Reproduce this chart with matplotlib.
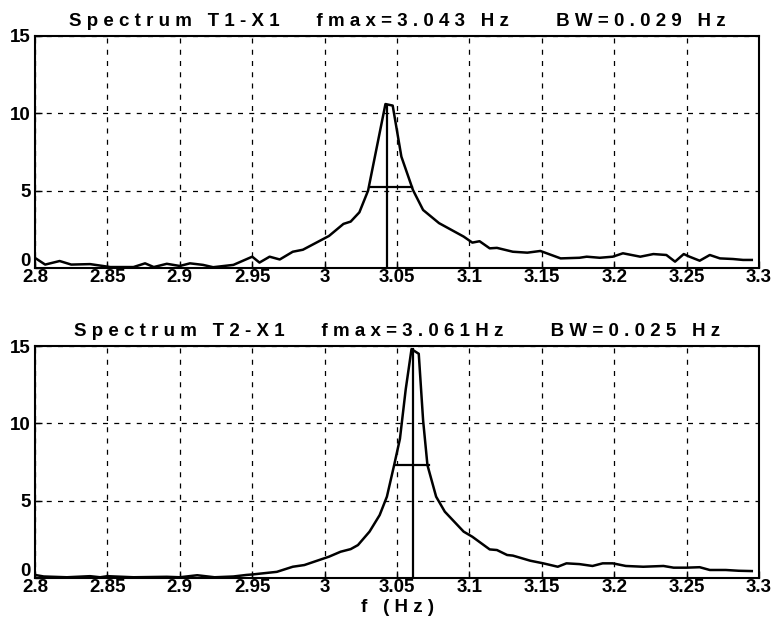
import matplotlib
matplotlib.use('Agg')
from matplotlib import pyplot as plt
from matplotlib.transforms import ScaledTranslation

# spectrum 1 (T1-X1)
f1 = [2.800, 2.807, 2.817, 2.825, 2.838, 2.852, 2.868, 2.876, 2.882, 2.891,
      2.900, 2.907, 2.916, 2.923, 2.937, 2.950, 2.955, 2.962, 2.969, 2.978,
      2.985, 3.003, 3.013, 3.018, 3.024, 3.030, 3.042, 3.047, 3.053, 3.061,
      3.068, 3.079, 3.096, 3.102, 3.107, 3.114, 3.119, 3.130, 3.140, 3.149,
      3.163, 3.176, 3.181, 3.190, 3.199, 3.206, 3.218, 3.227, 3.236, 3.242,
      3.248, 3.252, 3.259, 3.266, 3.273, 3.282, 3.289, 3.295]
a1 = [0.65, 0.22, 0.45, 0.22, 0.25, 0.06, 0.06, 0.30, 0.06, 0.27,
      0.13, 0.30, 0.20, 0.05, 0.20, 0.73, 0.35, 0.73, 0.55, 1.05,
      1.18, 2.07, 2.85, 3.00, 3.60, 5.00, 10.6, 10.5, 7.20, 5.04,
      3.75, 2.90, 2.03, 1.64, 1.73, 1.27, 1.30, 1.05, 0.99, 1.10,
      0.62, 0.66, 0.73, 0.66, 0.73, 0.95, 0.73, 0.90, 0.84, 0.41,
      0.90, 0.73, 0.47, 0.84, 0.62, 0.58, 0.52, 0.52]

# spectrum 2 (T2-X1)
f2 = [2.800, 2.806, 2.822, 2.838, 2.845, 2.850, 2.868, 2.891, 2.900, 2.912,
      2.924, 2.937, 2.946, 2.950, 2.967, 2.978, 2.986, 3.003, 3.011, 3.018,
      3.023, 3.031, 3.038, 3.043, 3.048, 3.052, 3.056, 3.060, 3.065, 3.068,
      3.071, 3.077, 3.083, 3.096, 3.102, 3.114, 3.119, 3.126, 3.130, 3.142,
      3.151, 3.161, 3.167, 3.176, 3.185, 3.192, 3.199, 3.208, 3.220, 3.234,
      3.241, 3.250, 3.259, 3.266, 3.277, 3.286, 3.295]
a2 = [0.20, 0.10, 0.05, 0.12, 0.05, 0.12, 0.05, 0.08, 0.05, 0.18,
      0.05, 0.10, 0.20, 0.23, 0.40, 0.73, 0.84, 1.38, 1.70, 1.87,
      2.13, 3.00, 4.07, 5.26, 7.30, 9.00, 12.2, 14.8, 14.5, 10.2,
      7.30, 5.26, 4.29, 3.00, 2.67, 1.85, 1.81, 1.49, 1.45, 1.12,
      0.95, 0.73, 0.95, 0.90, 0.78, 0.95, 0.95, 0.78, 0.73, 0.78,
      0.67, 0.67, 0.70, 0.52, 0.52, 0.47, 0.45]

# peak / half-power markers: fmax, peak value, half-power edges, half level
fmax = [3.043, 3.061]
peak = [10.5, 14.8]
hp_lo = [3.031, 3.049]
hp_hi = [3.060, 3.072]
hp_val = [5.26, 7.3]

titles = ['Spectrum T1-X1   fmax=3.043 Hz    BW=0.029 Hz',
          'Spectrum T2-X1   fmax=3.061Hz    BW=0.025 Hz']

xticks = [2.8, 2.85, 2.9, 2.95, 3, 3.05, 3.1, 3.15, 3.2, 3.25, 3.3]
xticklabels = ['2.8', '2.85', '2.9', '2.95', '3', '3.05', '3.1', '3.15', '3.2', '3.25', '3.3']
yticks = [0, 5, 10, 15]

plt.rcParams['font.family'] = ['Liberation Sans', 'DejaVu Sans']
plt.rcParams['font.weight'] = 'bold'


def spaced(s):
    # the printed original has very wide letter spacing
    return ' '.join(s)


fig = plt.figure(figsize=(7.75, 6.27), dpi=100)
ax1 = fig.add_axes([0.0452, 0.5726, 0.9342, 0.370])
ax2 = fig.add_axes([0.0452, 0.0781, 0.9342, 0.370])

data = [(f1, a1), (f2, a2)]
for i, ax in enumerate([ax1, ax2]):
    f, a = data[i]
    ax.plot(f, a, color='black', linewidth=1.8)
    ax.plot([fmax[i], fmax[i]], [0, peak[i]], color='black', linewidth=1.6)
    ax.plot([hp_lo[i], hp_hi[i]], [hp_val[i], hp_val[i]], color='black', linewidth=1.6)

    ax.set_xlim(2.8, 3.3)
    ax.set_ylim(0, 15)
    ax.set_xticks(xticks)
    ax.set_xticklabels(xticklabels)
    ax.set_yticks(yticks)
    ax.grid(True, color='black', linestyle=(0, (4, 5)), linewidth=0.9)
    ax.tick_params(direction='in', length=5, width=1, labelsize=13.5, pad=1)
    ax.tick_params(axis='y', pad=3)
    for sp in ax.spines.values():
        sp.set_linewidth(1.5)
    ax.set_title(spaced(titles[i]), fontsize=13.5, fontweight='bold', pad=7)
    # lift the "0" a little so it clears the "2.8" below it
    lab0 = ax.get_yticklabels()[0]
    lab0.set_transform(lab0.get_transform() + ScaledTranslation(0, 6 / 72, fig.dpi_scale_trans))

ax2.set_xlabel(spaced('f (Hz)'), fontsize=13.5, fontweight='bold', labelpad=2)

plt.savefig('out.png', dpi=100)
